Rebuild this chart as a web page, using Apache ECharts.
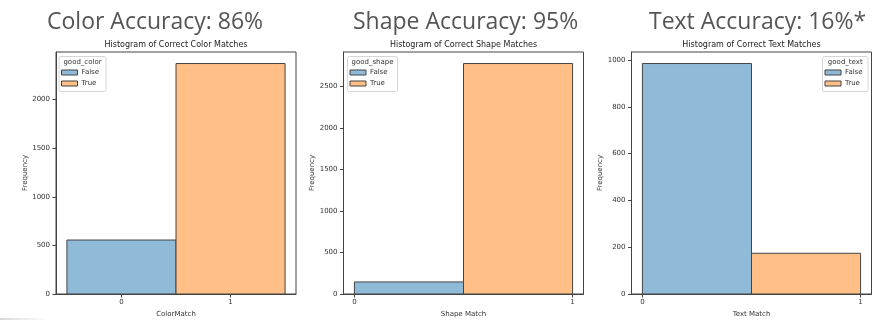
<!DOCTYPE html>
<html><head><meta charset="utf-8">
<script src="https://cdn.jsdelivr.net/npm/echarts@6/dist/echarts.min.js"></script>
<style>html,body{margin:0;padding:0;background:#fff}#c{width:894px;height:330px}</style>
</head><body><div id="c"></div>
<script>
// ---- data ----
const panelTitles = ['Color Accuracy: 86%', 'Shape Accuracy: 95%', 'Text Accuracy: 16%*'];
const subTitles = ['Histogram of Correct Color Matches', 'Histogram of Correct Shape Matches', 'Histogram of Correct Text Matches'];
const legendTitles = ['good_color', 'good_shape', 'good_text'];
const xAxisNames = ['ColorMatch', 'Shape Match', 'Text Match'];
const classNames = ['False', 'True'];
const colorEdges = [-0.5, 0.5, 1.5];
const colorCounts = [555, 2370];
const shapeEdges = [0, 0.5, 1];
const shapeCounts = [145, 2774];
const textEdges = [0, 0.5, 1];
const textCounts = [985, 174];
const xTicks = [0, 1];
const yIntervals = [500, 500, 200];

// ---- layout / style ----
const panels = [
  {edges: colorEdges, counts: colorCounts, left: 56, xmin: -0.6, xmax: 1.6, titleX: 47, legX: 59, legW: 47},
  {edges: shapeEdges, counts: shapeCounts, left: 343.5, xmin: -0.05, xmax: 1.05, titleX: 353, legX: 347.5, legW: 50},
  {edges: textEdges, counts: textCounts, left: 631.5, xmin: -0.05, xmax: 1.05, titleX: 649, legX: 822.5, legW: 45.5}
];
const fills = ['#8fbbd9', '#ffbf86'];
const GW = 240, GTOP = 52, GH = 242;
const FONT = 'DejaVu Sans';

const grid = [], xAxis = [], yAxis = [], series = [], legend = [], graphic = [];
panels.forEach((p, i) => {
  grid.push({left: p.left, top: GTOP, width: GW, height: GH, show: true, borderColor: '#444', borderWidth: 1, backgroundColor: '#fff'});
  xAxis.push({
    type: 'value', gridIndex: i, min: p.xmin, max: p.xmax,
    name: xAxisNames[i], nameLocation: 'middle', nameGap: 15,
    nameTextStyle: {fontFamily: FONT, fontSize: 7, color: '#333'},
    axisLine: {show: true, onZero: false, lineStyle: {color: '#444'}},
    axisTick: {show: true, customValues: xTicks, length: 3.5, lineStyle: {color: '#444'}},
    axisLabel: {customValues: xTicks, margin: 5, fontFamily: FONT, fontSize: 7, color: '#333'},
    splitLine: {show: false}
  });
  yAxis.push({
    type: 'value', gridIndex: i, min: 0, max: Math.max(...p.counts) * 1.05, interval: yIntervals[i],
    name: 'Frequency', nameLocation: 'middle', nameGap: 26,
    nameTextStyle: {fontFamily: FONT, fontSize: 7, color: '#333'},
    axisLine: {show: true, onZero: false, lineStyle: {color: '#444'}},
    axisTick: {show: true, length: 3.5, lineStyle: {color: '#444'}},
    axisLabel: {margin: 6, fontFamily: FONT, fontSize: 7, color: '#333', showMaxLabel: false, formatter: v => String(v)},
    splitLine: {show: false}
  });
  classNames.forEach((nm, k) => {
    series.push({
      type: 'custom', name: nm, xAxisIndex: i, yAxisIndex: i, z: 2,
      itemStyle: {color: fills[k], borderColor: '#444', borderWidth: 1},
      encode: {x: [0, 1], y: 2},
      data: [[p.edges[k], p.edges[k + 1], p.counts[k]]],
      renderItem: function (params, api) {
        const a = api.coord([api.value(0), 0]);
        const b = api.coord([api.value(1), api.value(2)]);
        return {type: 'rect', shape: {x: a[0], y: b[1], width: b[0] - a[0], height: a[1] - b[1]},
          style: {fill: fills[k], stroke: '#444', lineWidth: 1}};
      }
    });
  });
  legend.push({
    data: classNames, orient: 'vertical', left: p.legX + 2, top: 68, padding: 0,
    itemWidth: 16, itemHeight: 5, itemGap: 2, icon: 'rect', z: 12,
    itemStyle: {borderColor: '#444', borderWidth: 1},
    textStyle: {fontFamily: FONT, fontSize: 7, color: '#333', lineHeight: 9, padding: [0, 0, 0, -1]},
    selectedMode: false
  });
  graphic.push({type: 'rect', z: 10, shape: {x: p.legX, y: 56.5, width: p.legW, height: 35, r: 2},
    style: {fill: 'rgba(255,255,255,0.8)', stroke: '#d6d6d6', lineWidth: 1}});
  graphic.push({type: 'text', z: 11, x: p.legX + p.legW / 2, y: 62,
    style: {text: legendTitles[i], fontFamily: FONT, fontSize: 7, fill: '#333', align: 'center', verticalAlign: 'middle'}});
  graphic.push({type: 'text', z: 11, x: p.left + GW / 2, y: 45,
    style: {text: subTitles[i], fontFamily: FONT, fontSize: 8, fill: '#222', align: 'center', verticalAlign: 'middle'}});
  graphic.push({type: 'text', z: 11, x: p.titleX, y: 22,
    style: {text: panelTitles[i], fontFamily: 'Open Sans', fontSize: 23, fill: '#555', align: 'left', verticalAlign: 'middle'}});
});
graphic.push({type: 'line', z: 1, shape: {x1: 0, y1: 319, x2: 50, y2: 319},
  style: {stroke: new echarts.graphic.LinearGradient(0, 0, 1, 0, [{offset: 0, color: '#aaa'}, {offset: 1, color: 'rgba(200,200,200,0)'}]), lineWidth: 1}});

const chart = echarts.init(document.getElementById('c'), null, {renderer: 'canvas'});
chart.setOption({animation: false, backgroundColor: '#fff', grid, xAxis, yAxis, series, legend, graphic});
</script></body></html>
